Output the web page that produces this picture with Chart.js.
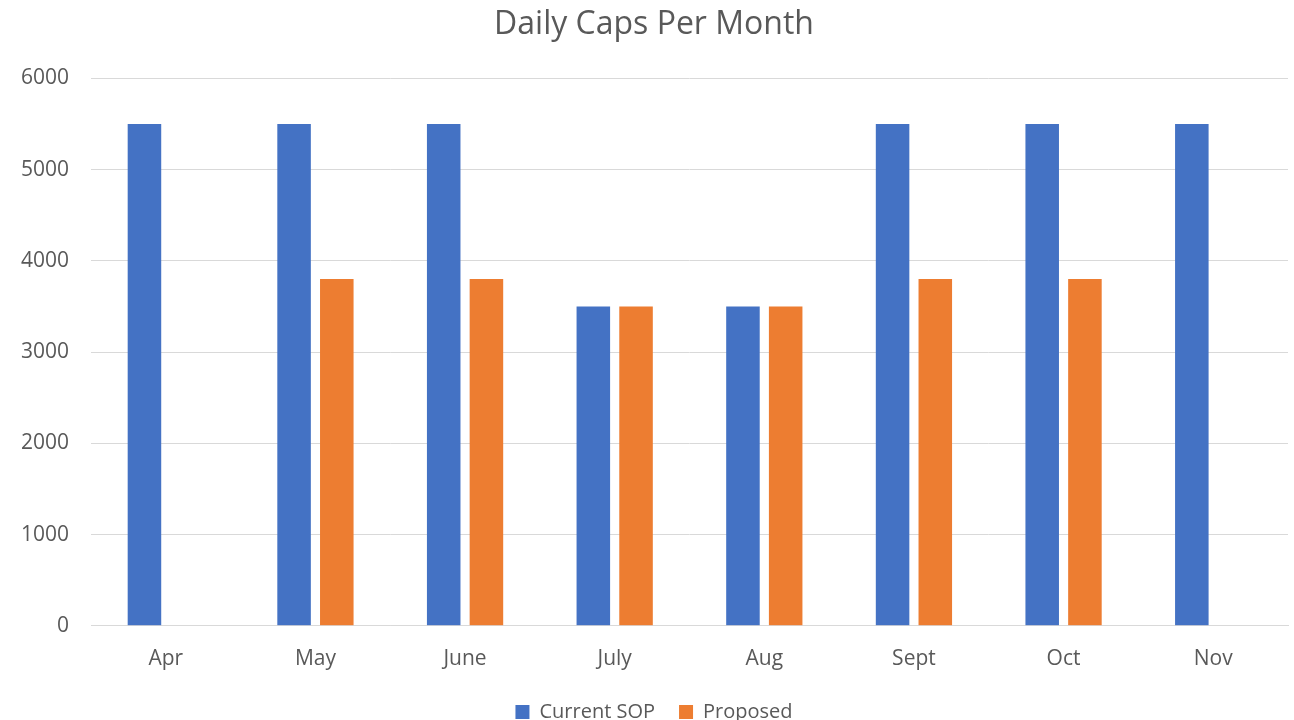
<!DOCTYPE html>
<html>
<head>
<meta charset="utf-8">
<script src="https://cdn.jsdelivr.net/npm/chart.js@4/dist/chart.umd.min.js"></script>
<style>
html,body{margin:0;padding:0;background:#fff;}
#wrap{width:1294px;height:720px;position:relative;}
</style>
</head>
<body>
<div id="wrap"><canvas id="c" width="1294" height="720"></canvas></div>
<script>
const categories = ["Apr","May","June","July","Aug","Sept","Oct","Nov"];
const currentSOP = [5500,5500,5500,3500,3500,5500,5500,5500];
const proposed = [null,3800,3800,3500,3500,3800,3800,null];
const yTicks = [0,1000,2000,3000,4000,5000,6000];

const textColor = "#595959";
const fontFamily = "'Open Sans', 'Noto Sans', sans-serif";

new Chart(document.getElementById("c"), {
  type: "bar",
  data: {
    labels: categories,
    datasets: [
      {label:"Current SOP", data: currentSOP, backgroundColor:"#4472C4", categoryPercentage:0.571, barPercentage:0.785},
      {label:"Proposed", data: proposed, backgroundColor:"#ED7D31", categoryPercentage:0.571, barPercentage:0.785}
    ]
  },
  options: {
    responsive:false,
    animation:false,
    layout:{padding:{left:20,right:6,top:6,bottom:-12}},
    plugins:{
      title:{display:true,text:"Daily Caps Per Month",color:textColor,font:{family:fontFamily,size:32,weight:"normal"},padding:{top:0,bottom:34}},
      legend:{position:"bottom",labels:{color:textColor,font:{family:fontFamily,size:20},boxWidth:14,boxHeight:14,padding:24}},
      tooltip:{enabled:false}
    },
    scales:{
      x:{
        grid:{display:false,drawTicks:false},
        border:{display:true,color:"#d9d9d9",width:1},
        ticks:{color:textColor,font:{family:fontFamily,size:21},padding:21},
        afterFit:(axis)=>{axis.height = axis.height - 15;}
      },
      y:{
        min:0,max:6000,
        afterBuildTicks:(axis)=>{axis.ticks = yTicks.map(v=>({value:v}));},
        grid:{color:"#d9d9d9",drawTicks:false},
        border:{display:false},
        ticks:{color:textColor,font:{family:fontFamily,size:21},padding:22,callback:(v)=>String(v)},
        afterFit:(axis)=>{axis.width = 71;}
      }
    }
  }
});
</script>
</body>
</html>
